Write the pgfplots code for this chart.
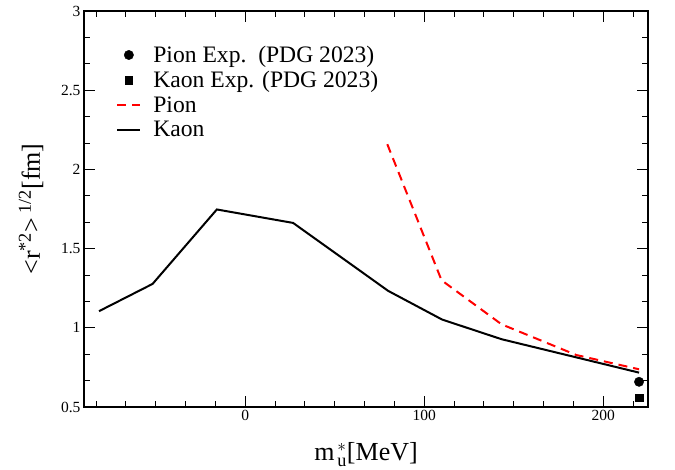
\documentclass[border=0pt]{standalone}
\usepackage{fontspec}
\setmainfont{Liberation Serif}
\usepackage{pgfplots}
\pgfplotsset{compat=1.18}
\begin{document}
\begin{tikzpicture}
\path[use as bounding box] (0pt,0pt) rectangle (675pt,470pt);
\begin{axis}[
  at={(84pt,63pt)}, anchor=south west,
  scale only axis, width=564pt, height=396pt,
  xmin=-90, xmax=225, ymin=0.5, ymax=3,
  xtick={0,100,200},
  minor xtick={-83.3333,-66.6667,...,220},
  ytick={0.5,1,1.5,2,2.5,3},
  minor y tick num=2,
  tick pos=both, tick align=inside,
  major tick length=11pt, minor tick length=6pt,
  every tick/.style={black, line width=0.8pt},
  axis line style={line width=1.3pt},
  /pgf/number format/assume math mode=true,
  ticklabel style={font=\fontsize{15.5pt}{18pt}\selectfont},
  xlabel={m$^{\,*}_{\,\mathrm{u}}$[MeV]},
  ylabel={<r\textsuperscript{*2}>\textsuperscript{ 1/2}[fm]},
  label style={font=\fontsize{26pt}{30pt}\selectfont},
  xlabel style={at={(axis description cs:0.5,-0.134)}, anchor=base},
  ylabel style={at={(axis description cs:-0.094,0.5)}, anchor=center},
  legend cell align=left,
  legend image code/.code={\draw[mark repeat=2,mark phase=2,#1] plot coordinates {(0pt,0pt)(11.5pt,0pt)(23pt,0pt)};},
  legend style={draw=none, fill=none, at={(rel axis cs:0.057,0.917)}, anchor=north west,
    font=\fontsize{23.6pt}{27pt}\selectfont, inner sep=0pt, row sep=3.5pt,
    /tikz/every odd column/.append style={column sep=10pt}},
]
\addplot[only marks, mark=*, mark size=4.7pt, black] coordinates {(220,0.659)};
\addlegendentry{Pion Exp.\ \ (PDG 2023)}
\addplot[only marks, mark=square*, mark size=3.7pt, black] coordinates {(220,0.560)};
\addlegendentry{Kaon Exp. (PDG 2023)}
\addplot[red, line width=2pt, dash pattern=on 9pt off 6pt] coordinates {
(79.4,2.159) (109.7,1.300) (143.2,1.022) (185,0.828) (220,0.738)};
\addlegendentry{Pion}
\addplot[black, line width=2pt] coordinates {
(-81.6,1.105) (-51.7,1.277) (-15.8,1.747) (26.8,1.662) (79.9,1.233) (110,1.052) (143.2,0.928) (220,0.717)};
\addlegendentry{Kaon}
\end{axis}
\end{tikzpicture}
\end{document}
